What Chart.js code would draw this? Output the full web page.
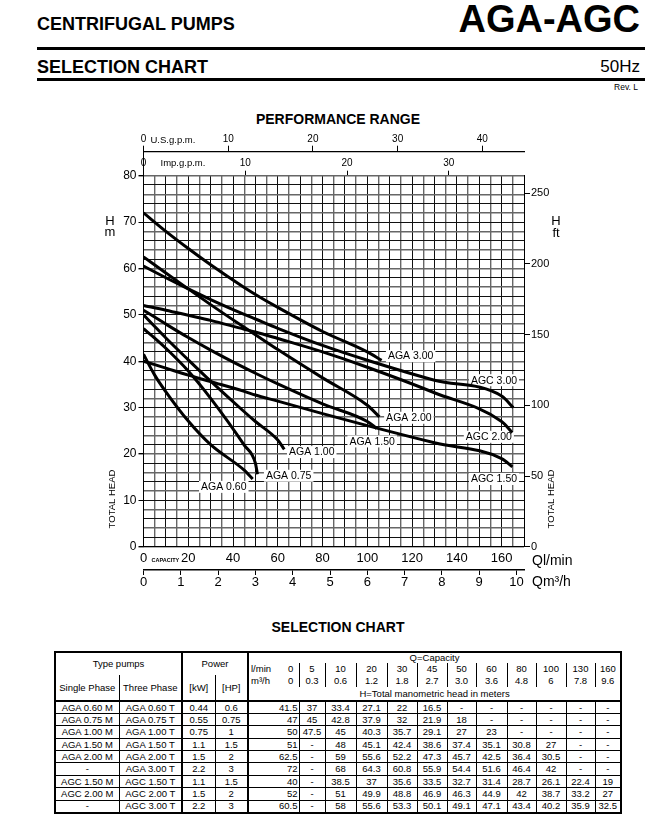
<!DOCTYPE html>
<html>
<head>
<meta charset="utf-8">
<script src="https://cdn.jsdelivr.net/npm/chart.js@4.4.1/dist/chart.umd.min.js"></script>
<style>
  body { margin: 0; width: 659px; height: 832px; position: relative; overflow: hidden; background: #fff; font-family: 'Liberation Sans', Arial, sans-serif; color: #000; }
  .txt { position: absolute; white-space: nowrap; line-height: 1; }
  .rule { position: absolute; left: 37px; width: 608px; height: 3px; background: #000; }
  #chart { position: absolute; left: 0; top: 128px; }
  #tbl { position: absolute; left: 54px; top: 651px; width: 568px; border-collapse: collapse; table-layout: fixed; font-size: 9.5px; border: 2px solid #000; }
  #tbl td { padding: 0; text-align: center; vertical-align: middle; white-space: nowrap; overflow: hidden; line-height: 1; }
  #tbl td.lft { text-align: left; padding-left: 2px; }
  #tbl td.l1 { border-left: 1px solid #000; }
  #tbl td.r1 { border-right: 1px solid #000; }
  #tbl td.b { border: 1px solid #000; }
  #tbl td.R2 { border-right: 2px solid #000; }
  #tbl tr.f td { border-top: 2px solid #000; }
  #tbl tr.d { height: 12.4px; }
</style>
</head>
<body>
<div class="txt" style="left:37px;top:15px;font-weight:bold;font-size:18px">CENTRIFUGAL PUMPS</div>
<div class="txt" style="right:19px;top:0px;font-weight:bold;font-size:38px">AGA-AGC</div>
<div class="rule" style="top:47px"></div>
<div class="txt" style="left:37px;top:58px;font-weight:bold;font-size:18px">SELECTION CHART</div>
<div class="txt" style="right:19px;top:58px;font-size:17px">50Hz</div>
<div class="rule" style="top:78px"></div>
<div class="txt" style="right:21px;top:83px;font-size:8.5px">Rev. L</div>
<div class="txt" style="left:0;width:676px;text-align:center;top:112px;font-weight:bold;font-size:14px">PERFORMANCE RANGE</div>
<canvas id="chart" width="659" height="470"></canvas>
<div class="txt" style="left:0;width:676px;text-align:center;top:620px;font-weight:bold;font-size:14px">SELECTION CHART</div>
<table id="tbl"></table>
<script>
// capacity columns of the selection table
const flowLmin = [0, 5, 10, 20, 30, 45, 50, 60, 80, 100, 130, 160]
const flowM3h = ['0', '0.3', '0.6', '1.2', '1.8', '2.7', '3.0', '3.6', '4.8', '6', '7.8', '9.6']

const singlePhase = ['AGA 0.60 M', 'AGA 0.75 M', 'AGA 1.00 M', 'AGA 1.50 M', 'AGA 2.00 M', '-', 'AGC 1.50 M', 'AGC 2.00 M', '-']
const threePhase = ['AGA 0.60 T', 'AGA 0.75 T', 'AGA 1.00 T', 'AGA 1.50 T', 'AGA 2.00 T', 'AGA 3.00 T', 'AGC 1.50 T', 'AGC 2.00 T', 'AGC 3.00 T']
const powerKW = ['0.44', '0.55', '0.75', '1.1', '1.5', '2.2', '1.1', '1.5', '2.2']
const powerHP = ['0.6', '0.75', '1', '1.5', '2', '3', '1.5', '2', '3']

// head in metres, null where the table shows "-"
const headAGA060 = [41.5, 37, 33.4, 27.1, 22, 16.5, null, null, null, null, null, null]
const headAGA075 = [47, 45, 42.8, 37.9, 32, 21.9, 18, null, null, null, null, null]
const headAGA100 = [50, 47.5, 45, 40.3, 35.7, 29.1, 27, 23, null, null, null, null]
const headAGA150 = [51, null, 48, 45.1, 42.4, 38.6, 37.4, 35.1, 30.8, 27, null, null]
const headAGA200 = [62.5, null, 59, 55.6, 52.2, 47.3, 45.7, 42.5, 36.4, 30.5, null, null]
const headAGA300 = [72, null, 68, 64.3, 60.8, 55.9, 54.4, 51.6, 46.4, 42, null, null]
const headAGC150 = [40, null, 38.5, 37, 35.6, 33.5, 32.7, 31.4, 28.7, 26.1, 22.4, 19]
const headAGC200 = [52, null, 51, 49.9, 48.8, 46.9, 46.3, 44.9, 42, 38.7, 33.2, 27]
const headAGC300 = [60.5, null, 58, 55.6, 53.3, 50.1, 49.1, 47.1, 43.4, 40.2, 35.9, 32.5]
const heads = [headAGA060, headAGA075, headAGA100, headAGA150, headAGA200, headAGA300, headAGC150, headAGC200, headAGC300]

// where each curve stops on the graph (l/min, m)
const endQ = [48.8, 50.9, 62.9, 104.2, 105.4, 106.4, 164.8, 164.8, 165.2]
const endH = [14.6, 15.6, 21, 25.5, 28, 40.2, 17.2, 24.6, 30]

const curveNames = threePhase.map(n => n.replace(/ T$/, ''))
// label anchors on the graph (left edge of the text), in l/min and m
const labelAt = [[25.7, 12.9], [54.7, 15.3], [65, 20.4], [92, 22.7], [108.4, 27.8], [109.2, 41.1], [146.3, 14.6], [144, 23.7], [146.3, 35.9]]

// ---- table ----
const colW = [64, 63, 33, 33, 35, 16, 26, 31, 31, 30, 30, 29, 31, 29, 30, 29, 26]
const T = []
T.push('<colgroup>' + colW.map(w => '<col style="width:' + w + 'px">').join('') + '</colgroup>')
T.push('<tr style="height:11px"><td colspan="2" rowspan="2" class="R2">Type pumps</td><td colspan="2" rowspan="2" class="R2">Power</td><td colspan="13">Q=Capacity</td></tr>')
T.push('<tr style="height:12px"><td class="lft">l/min</td>' + flowLmin.map((q, j) => '<td' + (j ? ' class="l1"' : '') + '>' + q + '</td>').join('') + '</tr>')
T.push('<tr style="height:12px"><td rowspan="2" class="r1">Single Phase</td><td rowspan="2" class="R2">Three Phase</td><td rowspan="2" class="r1">[kW]</td><td rowspan="2" class="R2">[HP]</td><td class="lft">m³/h</td>' + flowM3h.map((q, j) => '<td' + (j ? ' class="l1"' : '') + '>' + q + '</td>').join('') + '</tr>')
T.push('<tr style="height:14px"><td colspan="13">H=Total manometric head in meters</td></tr>')
heads.forEach((row, i) => {
    const cells = row.map((h, j) => {
        const v = h === null ? '-' : h
        if (j === 0) return '<td colspan="2" class="b" style="text-align:right;padding-right:1px">' + v + '</td>'
        return '<td class="b">' + v + '</td>'
    })
    T.push('<tr class="d' + (i === 0 ? ' f' : '') + '"><td class="b">' + singlePhase[i] + '</td><td class="b R2">' + threePhase[i] + '</td><td class="b">' + powerKW[i] + '</td><td class="b R2">' + powerHP[i] + '</td>' + cells.join('') + '</tr>')
})
document.getElementById('tbl').innerHTML = T.join('')

// ---- chart ----
const curves = heads.map((row, i) => {
    const pts = []
    row.forEach((h, j) => { if (h !== null) pts.push({ x: flowLmin[j], y: h }) })
    pts.push({ x: endQ[i], y: endH[i] })
    return pts
})

Chart.defaults.font.family = "'Liberation Sans', Arial, sans-serif"
Chart.defaults.color = '#000'

const fixSize = (w, h) => scale => {
    if (w) scale.width = w
    if (h) scale.height = h
}

const extras = {
    id: 'extras',
    beforeDatasetsDraw(chart) {
        const { ctx, scales } = chart
        ctx.save()
        ctx.font = '10.5px "Liberation Sans"'
        ctx.textBaseline = 'middle'
        curveNames.forEach((name, i) => {
            const px = scales.x.getPixelForValue(labelAt[i][0])
            const py = scales.y.getPixelForValue(labelAt[i][1])
            const w = ctx.measureText(name).width
            ctx.fillStyle = '#fff'
            ctx.fillRect(px - 2, py - 6, w + 4, 12)
            ctx.fillStyle = '#000'
            ctx.fillText(name, px, py + 0.5)
        })
        ctx.restore()
    },
    afterDraw(chart) {
        const { ctx, chartArea: a, scales } = chart
        const x0 = a.left
        ctx.save()
        ctx.fillStyle = '#000'
        ctx.strokeStyle = '#000'
        ctx.lineWidth = 1
        // zero mark of the Imp. scale runs up to the U.S. line
        ctx.beginPath()
        ctx.moveTo(x0, scales.xUS.bottom)
        ctx.lineTo(x0, a.top)
        ctx.stroke()
        ctx.textBaseline = 'middle'
        ctx.font = '9.5px "Liberation Sans"'
        ctx.fillText('U.S.g.p.m.', x0 + 7, 12)
        ctx.fillText('Imp.g.p.m.', x0 + 17, 35)
        ctx.font = '13px "Liberation Sans"'
        ctx.textAlign = 'center'
        ctx.fillText('H', 110, 93)
        ctx.fillText('m', 110, 104)
        ctx.fillText('H', 556, 93)
        ctx.fillText('ft', 556, 105)
        ctx.textAlign = 'left'
        ctx.font = 'bold 5.5px "Liberation Sans"'
        ctx.fillText('CAPACITY', x0 + 8, a.bottom + 14)
        ctx.font = '14px "Liberation Sans"'
        ctx.fillText('Ql/min', 532, a.bottom + 14)
        ctx.fillText('Qm³/h', 532, a.bottom + 35)
        ctx.font = '9.5px "Liberation Sans"'
        ctx.textAlign = 'center'
        for (const cx of [112, 551]) {
            ctx.save()
            ctx.translate(cx, 371)
            ctx.rotate(-Math.PI / 2)
            ctx.fillText('TOTAL HEAD', 0, 0)
            ctx.restore()
        }
        ctx.restore()
    }
}

const gridX = c => (c.index % 2 ? '#666' : '#111')
const gridY = c => (c.index % 2 ? '#111' : '#666')

new Chart(document.getElementById('chart'), {
    type: 'line',
    data: {
        datasets: curves.map((pts, i) => ({
            label: curveNames[i],
            data: pts,
            xAxisID: 'x',
            yAxisID: 'y',
            borderColor: '#000',
            borderWidth: 3,
            pointRadius: 0,
            fill: false,
            cubicInterpolationMode: 'monotone'
        }))
    },
    options: {
        responsive: false,
        animation: false,
        events: [],
        layout: { padding: 0 },
        plugins: { legend: { display: false }, tooltip: { enabled: false } },
        scales: {
            x: {
                type: 'linear', position: 'bottom', weight: 1, bounds: 'data',
                min: 0, max: 170,
                ticks: { stepSize: 5, autoSkip: false, maxRotation: 0, padding: 4, font: { size: 13 },
                    callback: v => (v % 20 === 0 ? v : '') },
                grid: { color: gridX, drawTicks: false, lineWidth: c => (c.index % 2 ? 1.4 : 1) },
                border: { display: true, color: '#000' },
                afterFit: fixSize(0, 23.3)
            },
            xM3: {
                type: 'linear', position: 'bottom', weight: 2, bounds: 'data',
                min: 0, max: 10.2,
                ticks: { stepSize: 1, autoSkip: false, includeBounds: false, maxRotation: 0, padding: 0, font: { size: 13 } },
                grid: { drawOnChartArea: false, tickLength: 5, color: '#000' },
                border: { display: true, color: '#000', width: 1.5 },
                afterFit: fixSize(0, 28)
            },
            xImp: {
                type: 'linear', position: 'top', weight: 1, bounds: 'data',
                min: 0, max: 170 / 4.546,
                ticks: { stepSize: 10, autoSkip: false, includeBounds: false, maxRotation: 0, padding: 1, font: { size: 10 } },
                grid: { drawOnChartArea: false, tickLength: 5, color: '#000' },
                border: { display: false },
                afterFit: fixSize(0, 24)
            },
            xUS: {
                type: 'linear', position: 'top', weight: 2, bounds: 'data',
                min: 0, max: 170 / 3.785,
                ticks: { stepSize: 10, autoSkip: false, includeBounds: false, maxRotation: 0, padding: 0, font: { size: 10 } },
                grid: { drawOnChartArea: false, tickLength: 6, color: '#000' },
                border: { display: true, color: '#000', width: 1.2 },
                afterFit: fixSize(0, 23.7)
            },
            y: {
                type: 'linear', position: 'left', bounds: 'data',
                min: 0, max: 80,
                ticks: { stepSize: 2, autoSkip: false, padding: 2, font: { size: 12 },
                    callback: v => (v % 10 === 0 ? v : '') },
                grid: { color: gridY, lineWidth: c => (c.index % 2 ? 1 : 1.4), tickLength: 5,
                    tickColor: c => (c.tick && c.tick.value % 10 === 0 ? '#000' : 'rgba(0,0,0,0)') },
                border: { display: true, color: '#000' },
                afterFit: fixSize(143.5, 0)
            },
            yFt: {
                type: 'linear', position: 'right', bounds: 'data',
                min: 0, max: 80 * 3.2808,
                ticks: { stepSize: 50, autoSkip: false, includeBounds: false, padding: 1, font: { size: 11 } },
                grid: { drawOnChartArea: false, tickLength: 6, color: '#000' },
                border: { display: true, color: '#000' },
                afterFit: fixSize(135, 0)
            }
        }
    },
    plugins: [extras]
})
</script>
</body>
</html>
